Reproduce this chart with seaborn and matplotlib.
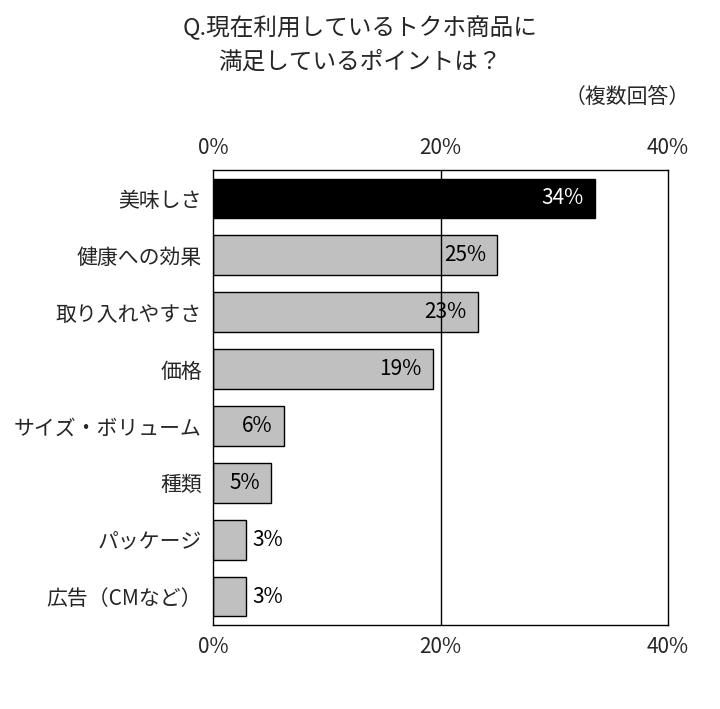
import matplotlib
matplotlib.use("Agg")
import matplotlib.pyplot as plt
import seaborn as sns
import pandas as pd

categories = ["美味しさ", "健康への効果", "取り入れやすさ", "価格", "サイズ・ボリューム", "種類", "パッケージ", "広告（CMなど）"]
values = [33.6, 25.0, 23.3, 19.3, 6.2, 5.1, 2.9, 2.9]
labels = ["34%", "25%", "23%", "19%", "6%", "5%", "3%", "3%"]
ticks = [0, 20, 40]
tick_labels = ["0%", "20%", "40%"]

sns.set_theme(style="white")
plt.rcParams['font.family'] = ['Noto Sans CJK JP', 'DejaVu Sans']

df = pd.DataFrame({"cat": categories, "val": values})
fig = plt.figure(figsize=(7.2, 7.09), dpi=100)
ax = fig.add_axes([213/720, 1-625/709, 455/720, 455/709])
colors = ["black"] + ["#c0c0c0"] * 7
sns.barplot(data=df, x="val", y="cat", hue="cat", palette=colors, legend=False,
            width=0.7, edgecolor="black", linewidth=1, ax=ax)
ax.set_xlim(0, 40)
ax.set_xticks(ticks)
ax.set_xticklabels(tick_labels, fontsize=15)
ax.tick_params(axis="x", top=True, labeltop=True, bottom=True, length=0, pad=8)
ax.tick_params(axis="y", labelsize=15, length=0, pad=8)
ax.set_xlabel("")
ax.set_ylabel("")
ax.axvline(20, color="black", linewidth=1)
for s in ax.spines.values():
    s.set_color("black")
    s.set_linewidth(1)
for i, (v, lab) in enumerate(zip(values, labels)):
    if v > 4:
        ax.text(v - 1.0, i, lab, ha="right", va="center", fontsize=15,
                color="white" if i == 0 else "black")
    else:
        ax.text(v + 0.6, i, lab, ha="left", va="center", fontsize=15, color="black")

fig.text(0.5, 1-28/709, "Q.現在利用しているトクホ商品に", ha="center", va="center", fontsize=17)
fig.text(0.5, 1-62/709, "満足しているポイントは？", ha="center", va="center", fontsize=17)
fig.text(690/720, 1-97/709, "（複数回答）", ha="right", va="center", fontsize=15)
fig.savefig("out.png", dpi=100, facecolor="white")
